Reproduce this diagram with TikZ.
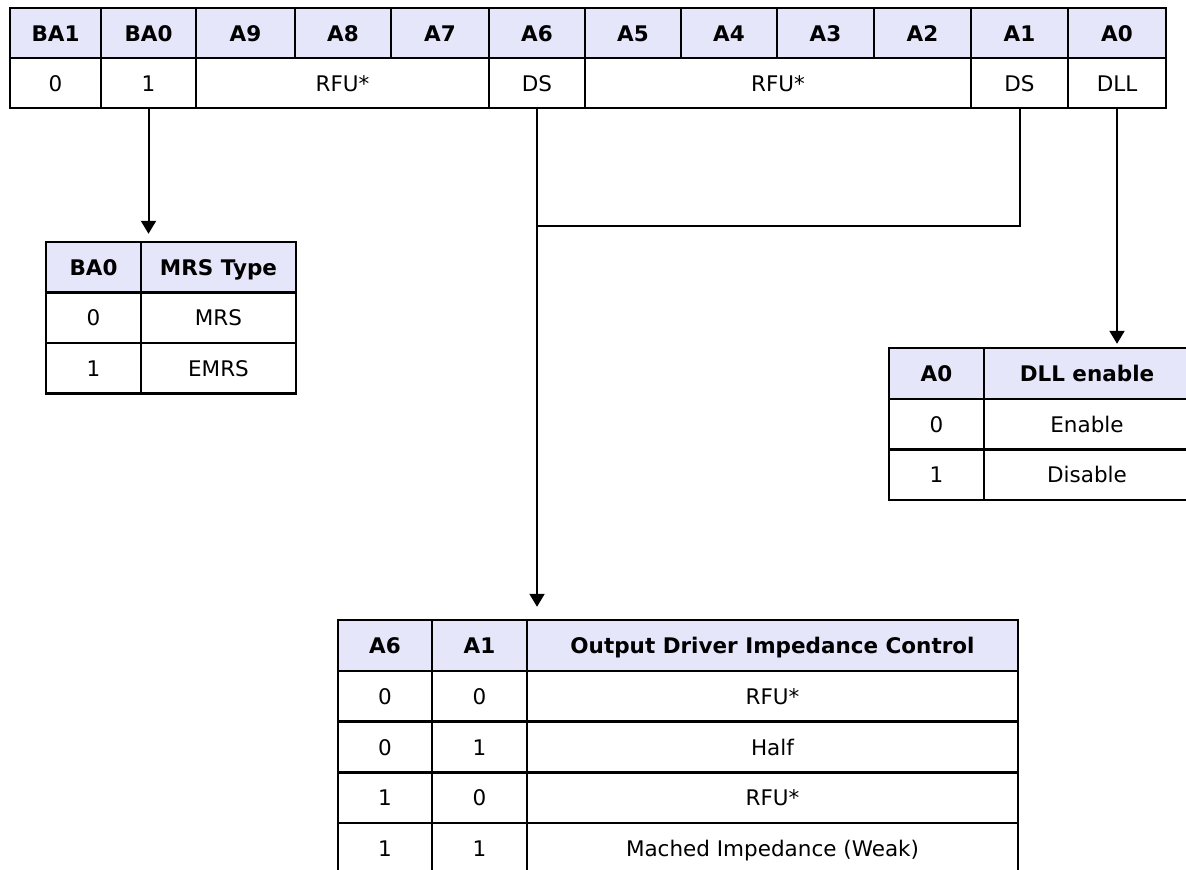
\documentclass[tikz,border=0pt]{standalone}
\usepackage{fontspec}
\setmainfont{DejaVu Sans}
\usepackage{tikz}
\usetikzlibrary{
    arrows.meta,
    calc,
    positioning
}
\definecolor{headfill}{RGB}{230,230,250}
\tikzset{
    cell/.style={draw, line width=2.4pt, inner sep=0pt, text height=16pt, text depth=0pt, font=\fontsize{21.5}{26}\selectfont},
    headcell/.style={cell, fill=headfill, font=\fontsize{21.5}{26}\selectfont\bfseries},
    link/.style={line width=2pt},
    pointer/.style={link, -{Triangle[width=15pt,length=13pt]}}
}

\begin{document}
\begin{tikzpicture}[x=1pt, y=-1pt]
                        \useasboundingbox (0, 0) rectangle (1186, 870);
                        \begin{scope}
                            \foreach \l/\r/\t in {10/101/BA1, 101/196/BA0, 196/295/A9, 295/391/A8, 391/489/A7, 489/585/A6, 585/681/A5, 681/777/A4, 777/874/A3, 874/971/A2, 971/1068/A1, 1068/1166/A0}
                                \node[headcell, minimum width={(\r-\l)*1pt}, minimum height=50pt] (h-\t) at ({(\l+\r)/2}, 33) {\t};
                            \foreach \l/\r/\t/\n in {10/101/0/ba1, 101/196/1/ba0, 196/489/RFU*/rfuhi, 489/585/DS/ds6, 585/971/RFU*/rfulo, 971/1068/DS/ds1, 1068/1166/DLL/dll}
                                \node[cell, minimum width={(\r-\l)*1pt}, minimum height=50pt] (v-\n) at ({(\l+\r)/2}, 83) {\t};
                        \end{scope}
                        \begin{scope}
                            \node[headcell, minimum width=95pt, minimum height=50.5pt] (m-h-ba0) at (93.5, 267.25) {BA0};
                            \node[headcell, minimum width=155pt, minimum height=50.5pt] (m-h-type) at (218.5, 267.25) {MRS Type};
                            \foreach \a/\b [count=\k] in {0/MRS, 1/EMRS} {
                                \node[cell, minimum width=95pt, minimum height=50.5pt] (m-\k-a) at (93.5, {267.25+50.5*\k}) {\a};
                                \node[cell, minimum width=155pt, minimum height=50.5pt] (m-\k-b) at (218.5, {267.25+50.5*\k}) {\b};
                            }
                        \end{scope}
                        \begin{scope}
                            \node[headcell, minimum width=95pt, minimum height=50.7pt] (d-h-a0) at (936.5, 373.35) {A0};
                            \node[headcell, minimum width=206pt, minimum height=50.7pt] (d-h-en) at (1087, 373.35) {DLL enable};
                            \foreach \a/\b [count=\k] in {0/Enable, 1/Disable} {
                                \node[cell, minimum width=95pt, minimum height=50.7pt] (d-\k-a) at (936.5, {373.35+50.7*\k}) {\a};
                                \node[cell, minimum width=206pt, minimum height=50.7pt] (d-\k-b) at (1087, {373.35+50.7*\k}) {\b};
                            }
                        \end{scope}
                        \begin{scope}
                            \node[headcell, minimum width=94pt, minimum height=50.8pt] (o-h-a6) at (385, 645.4) {A6};
                            \node[headcell, minimum width=95pt, minimum height=50.8pt] (o-h-a1) at (479.5, 645.4) {A1};
                            \node[headcell, minimum width=491pt, minimum height=50.8pt] (o-h-ctl) at (772.5, 645.4) {Output Driver Impedance Control};
                            \foreach \a/\b/\c [count=\k] in {0/0/RFU*, 0/1/Half, 1/0/RFU*, 1/1/Mached Impedance (Weak)} {
                                \node[cell, minimum width=94pt, minimum height=50.8pt] (o-\k-a) at (385, {645.4+50.8*\k}) {\a};
                                \node[cell, minimum width=95pt, minimum height=50.8pt] (o-\k-b) at (479.5, {645.4+50.8*\k}) {\b};
                                \node[cell, minimum width=491pt, minimum height=50.8pt] (o-\k-c) at (772.5, {645.4+50.8*\k}) {\c};
                            }
                        \end{scope}
                        \coordinate (join) at (537, 226);
                        \draw[pointer, shorten >=7pt] (v-ba0.south) -- (v-ba0.south |- m-h-type.north);
                        \draw[pointer, shorten >=12pt] (v-ds6.south) -- (v-ds6.south |- o-h-ctl.north);
                        \draw[link] (v-ds1.south) |- (join);
                        \draw[pointer, shorten >=3pt] (v-dll.south) -- (v-dll.south |- d-h-en.north);
                    \end{tikzpicture}
\end{document}
